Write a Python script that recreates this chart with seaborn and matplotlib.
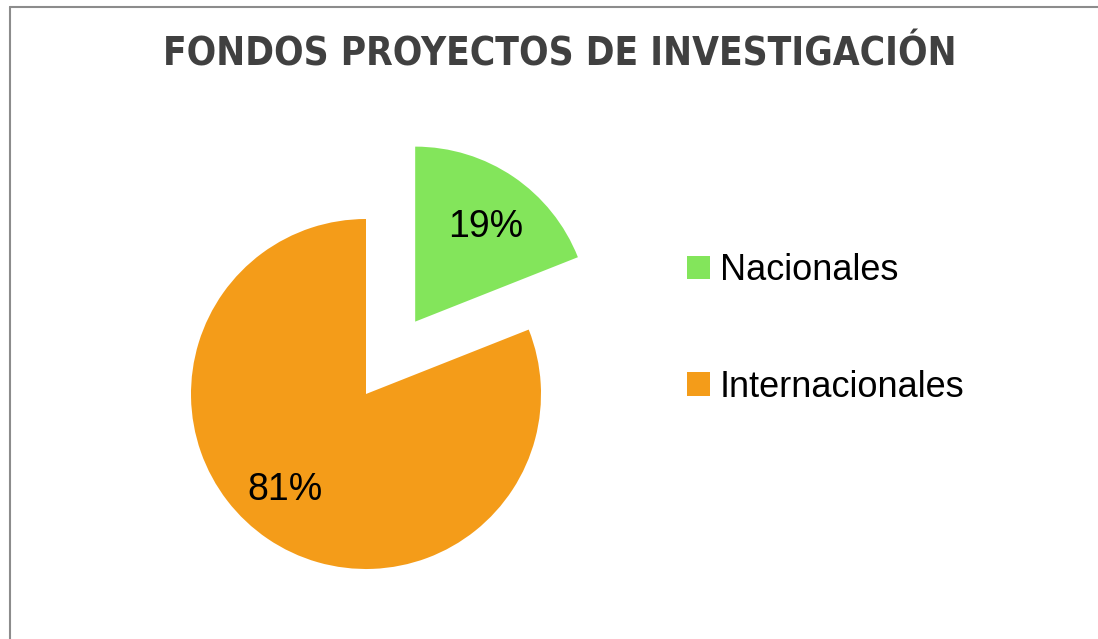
import matplotlib
matplotlib.use("Agg")
import matplotlib.pyplot as plt
import matplotlib.transforms as mtransforms
import seaborn as sns
from matplotlib.lines import Line2D

# data
categorias = ["Nacionales", "Internacionales"]
porcentajes = [19, 81]
colores = ["#83E55B", "#F49C19"]
titulo = "FONDOS PROYECTOS DE INVESTIGACIÓN"

sns.set_theme(style="white")
plt.rcParams['font.family'] = ['Liberation Sans', 'DejaVu Sans']

W, H = 1098, 639
fig = plt.figure(figsize=(W / 100, H / 100), dpi=100)
fig.patch.set_facecolor("white")

# pie: centro (366, 394) px desde arriba-izquierda, radio ~175 px
R = 175.0
cx, cy = 366.0, H - 394.0
ax = fig.add_axes([0, 0, 1, 1])
wedges, texts, autotexts = ax.pie(
    porcentajes, colors=colores, startangle=90, counterclock=False,
    explode=[0.5, 0], autopct="%1.0f%%", pctdistance=0.7,
    textprops={"fontsize": 27, "color": "black"},
    wedgeprops={"linewidth": 0})
ax.set_xlim(-cx / R, (W - cx) / R)
ax.set_ylim(-cy / R, (H - cy) / R)
ax.set_aspect("auto")
ax.axis("off")

# pequeño ajuste de las etiquetas como en Excel (en puntos)
ajustes = [(1, -5), (-9, 4)]
for t, (dx, dy) in zip(autotexts, ajustes):
    t.set_transform(mtransforms.offset_copy(t.get_transform(), fig=fig,
                                            x=dx, y=dy, units="points"))

fig.text(560 / W, 1 - 54 / H, titulo, ha="center", va="center",
         fontsize=27.8, fontweight="bold", color="#404040",
         family="DejaVu Sans", fontstretch="condensed")

fig.legend(wedges, categorias, loc="center left",
           bbox_to_anchor=(687 / W, 310 / H), frameon=False,
           fontsize=26, labelcolor="black",
           handlelength=0.63, handleheight=0.63,
           handletextpad=0.28, labelspacing=2.25, borderpad=0,
           borderaxespad=0)

# marco gris del gráfico
fig.add_artist(Line2D([9.5 / W, 9.5 / W], [0, 1 - 6.5 / H],
                      transform=fig.transFigure, color="#8C8C8C", lw=1.5))
fig.add_artist(Line2D([9.5 / W, 1], [1 - 6.5 / H, 1 - 6.5 / H],
                      transform=fig.transFigure, color="#8C8C8C", lw=1.5))

fig.savefig("out.png", dpi=100, facecolor="white")
